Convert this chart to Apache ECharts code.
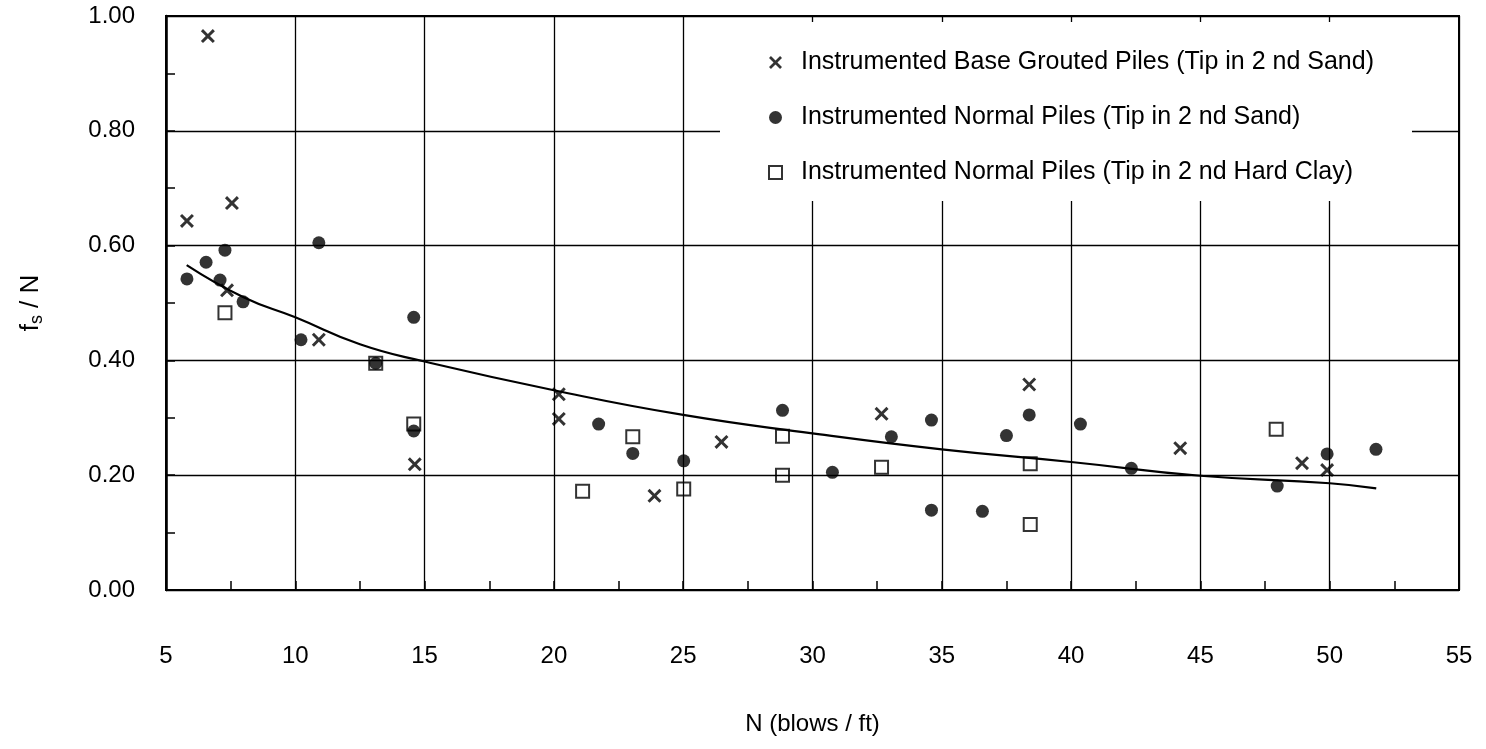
<!DOCTYPE html>
<html>
<head>
<meta charset="utf-8">
<script src="https://cdn.jsdelivr.net/npm/echarts@6/dist/echarts.min.js"></script>
<style>
  html, body { margin: 0; padding: 0; background: #fff; }
  #chart { width: 1486px; height: 749px; }
</style>
</head>
<body>
<div id="chart"></div>
<script>
// Axis tick labels
const xTickLabels = ['5', '10', '15', '20', '25', '30', '35', '40', '45', '50', '55'];
const yTickLabels = ['0.00', '0.20', '0.40', '0.60', '0.80', '1.00'];

// Series names
const seriesNames = [
  'Instrumented Base Grouted Piles (Tip in 2 nd Sand)',
  'Instrumented Normal Piles (Tip in 2 nd Sand)',
  'Instrumented Normal Piles (Tip in 2 nd Hard Clay)'
];

// Base grouted piles, tip in 2nd sand: N and fs/N
const groutedN  = [6.62, 5.81, 7.55, 7.36, 10.91, 14.62, 20.19, 20.19, 23.89, 26.48, 32.67, 38.38, 44.22, 48.93, 49.90];
const groutedFs = [0.965, 0.643, 0.674, 0.522, 0.436, 0.219, 0.341, 0.298, 0.164, 0.258, 0.307, 0.358, 0.247, 0.221, 0.209];

// Normal piles, tip in 2nd sand
const sandN  = [10.91, 7.28, 6.55, 5.81, 7.09, 7.98, 14.58, 10.22, 13.11, 14.58, 21.73, 23.05, 25.02, 28.84, 30.77, 33.05, 34.60, 34.60, 36.57, 37.50, 38.38, 40.36, 42.33, 47.97, 49.90, 51.79];
const sandFs = [0.605, 0.592, 0.571, 0.542, 0.540, 0.502, 0.475, 0.436, 0.395, 0.277, 0.289, 0.238, 0.225, 0.313, 0.205, 0.267, 0.296, 0.139, 0.137, 0.269, 0.305, 0.289, 0.212, 0.181, 0.237, 0.245];

// Normal piles, tip in 2nd hard clay
const clayN  = [7.28, 13.11, 14.58, 21.11, 23.05, 25.02, 28.84, 28.84, 32.67, 38.42, 38.42, 47.93];
const clayFs = [0.483, 0.395, 0.289, 0.172, 0.267, 0.176, 0.268, 0.200, 0.214, 0.220, 0.114, 0.280];

// Trend curve through all piles
const trendN  = [5.8, 8.0, 10, 12.5, 15, 20, 25, 30, 35, 40, 45, 50, 51.8];
const trendFs = [0.566, 0.510, 0.475, 0.428, 0.398, 0.348, 0.305, 0.273, 0.245, 0.223, 0.199, 0.186, 0.177];

const pairs = (xs, ys) => xs.map((x, i) => [x, ys[i]]);

const FONT = "'Liberation Sans', Arial, sans-serif";
const crossSymbol = 'path://M0,3L3,0L10,7L17,0L20,3L13,10L20,17L17,20L10,13L3,20L0,17L7,10Z';

const chart = echarts.init(document.getElementById('chart'), null, { renderer: 'canvas' });

chart.setOption({
  backgroundColor: '#fff',
  animation: false,
  textStyle: { fontFamily: FONT, color: '#000' },
  grid: {
    left: 166, right: 27, top: 16, bottom: 159,
    show: true, borderColor: '#000', borderWidth: 2, backgroundColor: 'transparent'
  },
  legend: {
    orient: 'vertical',
    left: 720, top: 22,
    padding: [28, 38, 16, 48],
    itemGap: 30,
    itemWidth: 13, itemHeight: 13,
    backgroundColor: '#fff',
    data: seriesNames,
    textStyle: { fontFamily: FONT, fontSize: 25, color: '#000', padding: [0, 0, 0, 14] }
  },
  xAxis: {
    type: 'value',
    min: 5, max: 55, interval: 5,
    name: 'N (blows / ft)',
    nameLocation: 'middle',
    nameGap: 122,
    nameTextStyle: { fontFamily: FONT, fontSize: 24, color: '#000' },
    axisLine: { lineStyle: { color: '#000', width: 2 } },
    axisTick: { show: true, inside: true, length: 9, lineStyle: { color: '#000', width: 1.5 } },
    minorTick: { show: true, splitNumber: 2, length: 9, lineStyle: { color: '#000', width: 1.5 } },
    splitLine: { show: true, lineStyle: { color: '#000', width: 1.3 } },
    axisLabel: {
      margin: 54, fontSize: 24, color: '#000', fontFamily: FONT,
      formatter: v => xTickLabels[Math.round((v - 5) / 5)]
    }
  },
  yAxis: {
    type: 'value',
    min: 0, max: 1, interval: 0.2,
    name: '{a|f}{s|s}{a| / N}',
    nameLocation: 'middle',
    nameRotate: 90,
    nameGap: 120,
    nameTextStyle: {
      fontFamily: FONT, color: '#000',
      rich: {
        a: { fontFamily: FONT, fontSize: 26, color: '#000' },
        s: { fontFamily: FONT, fontSize: 18, color: '#000', padding: [12, 0, 0, 0] }
      }
    },
    axisLine: { lineStyle: { color: '#000', width: 2.5 } },
    axisTick: { show: true, inside: true, length: 9, lineStyle: { color: '#000', width: 1.5 } },
    minorTick: { show: true, splitNumber: 2, length: 9, lineStyle: { color: '#000', width: 1.5 } },
    splitLine: { show: true, lineStyle: { color: '#000', width: 1.3 } },
    axisLabel: {
      margin: 31, fontSize: 24, color: '#000', fontFamily: FONT,
      formatter: v => yTickLabels[Math.round(v / 0.2)]
    }
  },
  series: [
    {
      name: 'trend',
      type: 'line',
      data: pairs(trendN, trendFs),
      smooth: true,
      showSymbol: false,
      symbol: 'none',
      lineStyle: { color: '#000', width: 2.2 },
      z: 2
    },
    {
      name: seriesNames[0],
      type: 'scatter',
      data: pairs(groutedN, groutedFs),
      symbol: crossSymbol,
      symbolSize: 14,
      itemStyle: { color: '#000' },
      z: 3
    },
    {
      name: seriesNames[1],
      type: 'scatter',
      data: pairs(sandN, sandFs),
      symbol: 'circle',
      symbolSize: 13,
      itemStyle: { color: '#000' },
      z: 3
    },
    {
      name: seriesNames[2],
      type: 'scatter',
      data: pairs(clayN, clayFs),
      symbol: 'rect',
      symbolSize: 13,
      itemStyle: { color: 'rgba(0,0,0,0)', borderColor: '#000', borderWidth: 2 },
      z: 4
    }
  ]
});
</script>
</body>
</html>
